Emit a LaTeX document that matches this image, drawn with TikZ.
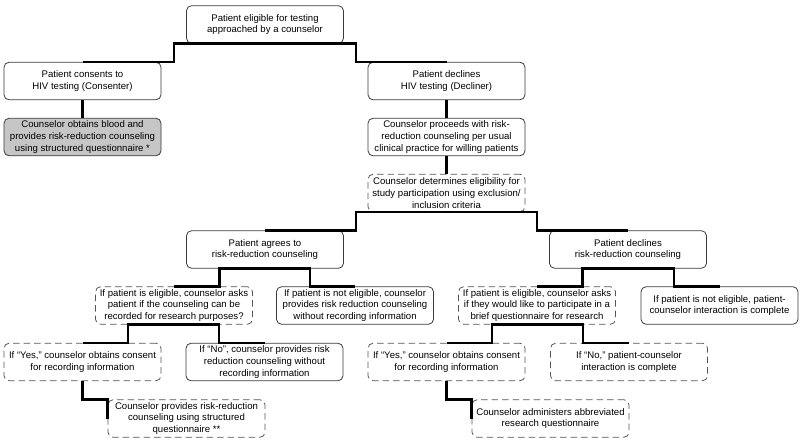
\documentclass[tikz,border=0pt]{standalone}
\usepackage{fontspec}
\setmainfont{Liberation Sans}
\usetikzlibrary{calc}
\definecolor{bordergray}{HTML}{3A3A3A}
\definecolor{dashgray}{HTML}{555555}
\definecolor{fillgray}{HTML}{C6C6C6}
\tikzset{
  box/.style={draw=bordergray, line width=0.8pt, rounded corners=5pt, minimum width=157pt, minimum height=37.5pt,
    inner sep=1pt, align=center, font=\fontsize{9.6pt}{11.6pt}\selectfont},
  dbox/.style={box, draw=dashgray, dash pattern=on 6.5pt off 4pt},
  gbox/.style={box, fill=fillgray},
  conn/.style={line width=2.4pt, black},
}
\newcommand{\elbow}[2]{\draw[conn] (#1.south) -| ($(#1.south)!0.5!(#2.north)$) |- (#2.north);}
\begin{document}
\begin{tikzpicture}[x=1pt,y=-1pt]
\useasboundingbox (0,0) rectangle (800,440);
% connectors first (boxes drawn over)
\path
 (265,24.5) coordinate (c1) ;
% nodes
\node[box]  (top)   at (265,24.5)  {Patient eligible for testing\\approached by a counselor};
\node[box]  (cons)  at (82.5,81)   {Patient consents to\\HIV testing (Consenter)};
\node[gbox] (blood) at (82.5,137)  {Counselor obtains blood and\\provides risk-reduction counseling\\using structured questionnaire *};
\node[box]  (decl)  at (446.5,81)  {Patient declines\\HIV testing (Decliner)};
\node[box]  (proc)  at (446.5,137) {Counselor proceeds with risk-\\reduction counseling per usual\\clinical practice for willing patients};
\node[dbox] (det)   at (446.5,193) {Counselor determines eligibility for\\study participation using exclusion/\\inclusion criteria};
\node[box]  (agr)   at (265,249.5) {Patient agrees to\\risk-reduction counseling};
\node[box]  (decR)  at (628,249.5) {Patient declines\\risk-reduction counseling};
\node[dbox] (eligL) at (174,305.5) {If patient is eligible, counselor asks\\patient if the counseling can be\\recorded for research purposes?};
\node[box]  (notL)  at (355,305.5) {If patient is not eligible, counselor\\provides risk reduction counseling\\without recording information};
\node[dbox] (yesL)  at (82.5,362)  {If “Yes,” counselor obtains consent\\for recording information};
\node[box]  (noL)   at (264.5,362) {If “No”, counselor provides risk\\reduction counseling without\\recording information};
\node[dbox] (provL) at (186.5,418.5) {Counselor provides risk-reduction\\counseling using structured\\questionnaire **};
\node[dbox] (eligR) at (537,305.5) {If patient is eligible, counselor asks\\if they would like to participate in a\\brief questionnaire for research};
\node[box]  (notR)  at (719.5,305.5) {If patient is not eligible, patient-\\counselor interaction is complete};
\node[dbox] (yesR)  at (446.5,362) {If “Yes,” counselor obtains consent\\for recording information};
\node[dbox] (noR)   at (629,362)   {If “No,” patient-counselor\\interaction is complete};
\node[dbox] (admR)  at (550.5,418.5) {Counselor administers abbreviated\\research questionnaire};
% connectors
\elbow{top}{cons}
\elbow{top}{decl}
\draw[conn] (cons.south) -- (blood.north);
\draw[conn] (decl.south) -- (proc.north);
\draw[conn] (proc.south) -- (det.north);
\elbow{det}{agr}
\elbow{det}{decR}
\elbow{agr}{eligL}
\elbow{agr}{notL}
\elbow{eligL}{yesL}
\elbow{eligL}{noL}
\elbow{decR}{eligR}
\elbow{decR}{notR}
\elbow{eligR}{yesR}
\elbow{eligR}{noR}
\draw[conn] (yesL.south) |- (provL.north west) -- (provL.west);
\draw[conn] (yesR.south) |- (admR.north west) -- (admR.west);
\end{tikzpicture}
\end{document}
